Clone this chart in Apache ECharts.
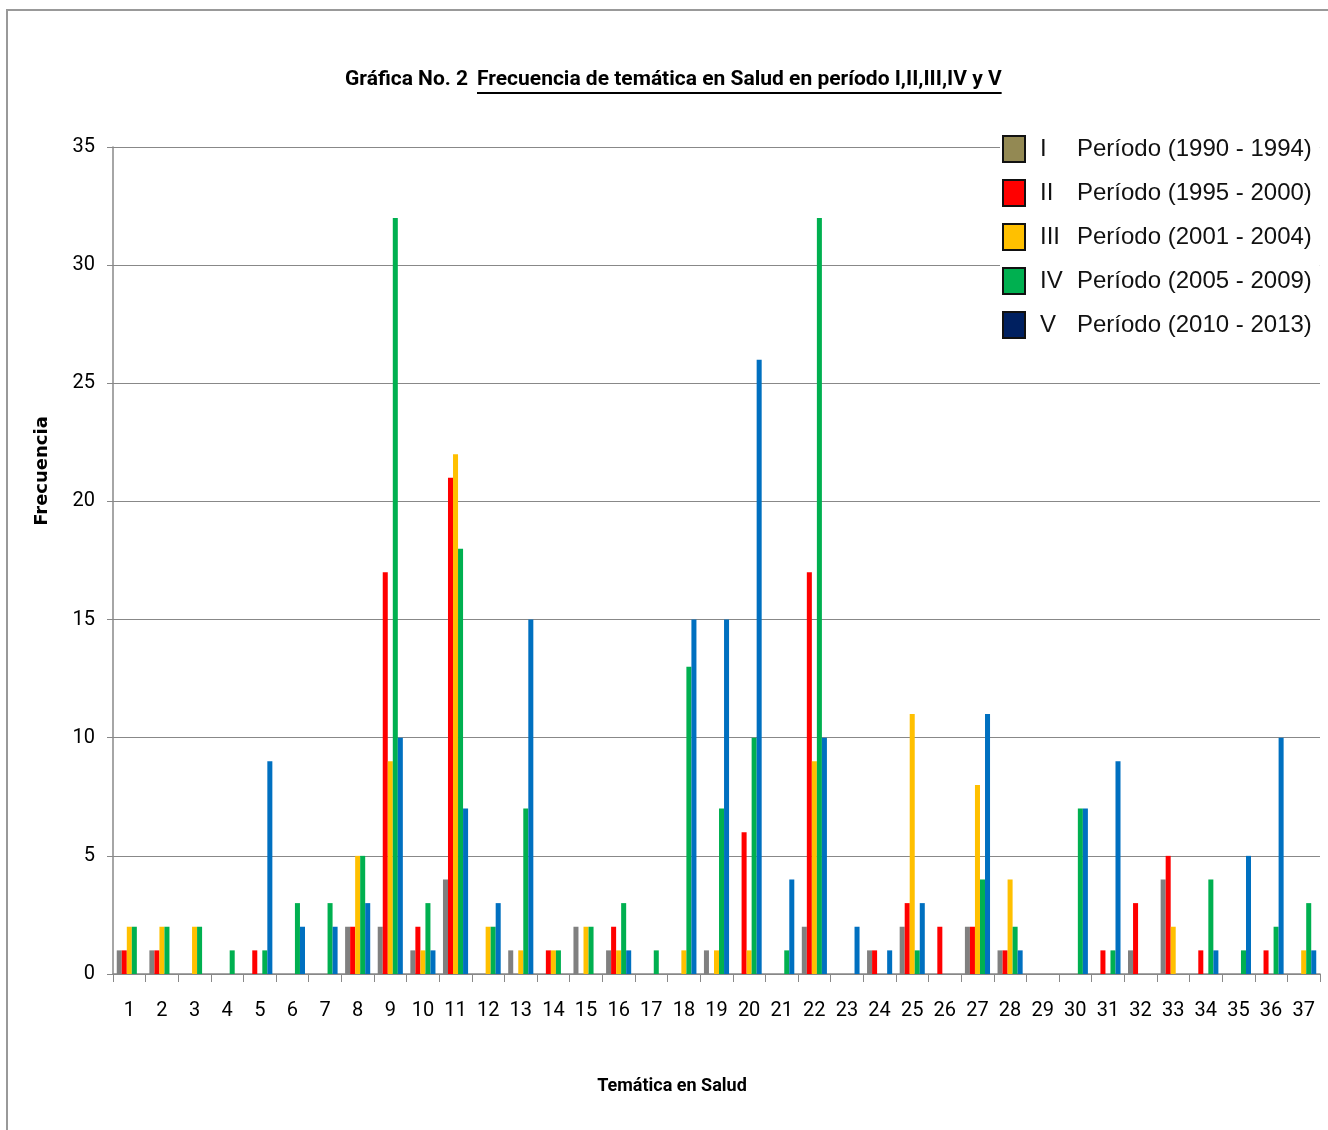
<!DOCTYPE html>
<html><head><meta charset="utf-8">
<script src="https://cdn.jsdelivr.net/npm/echarts@6/dist/echarts.min.js"></script>
<style>html,body{margin:0;padding:0;background:#fff}#c{width:1328px;height:1130px}</style>
</head><body><div id="c"></div>
<script>
const categories = Array.from({length:37},(_,i)=>String(i+1));
const seriesNames = ['I','II','III','IV','V'];
const periodLabels = ['Período (1990 - 1994)','Período (1995 - 2000)','Período (2001 - 2004)','Período (2005 - 2009)','Período (2010 - 2013)'];
//            1 2 3 4 5 6 7 8 9 10 11 12 13 14 15 16 17 18 19 20 21 22 23 24 25 26 27 28 29 30 31 32 33 34 35 36 37
const periodI   = [1,1,0,0,0,0,0,2,2,1,4,0,1,0,2,1,0,0,1,0,0,2,0,1,2,0,2,1,0,0,0,1,4,0,0,0,0];
const periodII  = [1,1,0,0,1,0,0,2,17,2,21,0,0,1,0,2,0,0,0,6,0,17,0,1,3,2,2,1,0,0,1,3,5,1,0,1,0];
const periodIII = [2,2,2,0,0,0,0,5,9,1,22,2,1,1,2,1,0,1,1,1,0,9,0,0,11,0,8,4,0,0,0,0,2,0,0,0,1];
const periodIV  = [2,2,2,1,1,3,3,5,32,3,18,2,7,1,2,3,1,13,7,10,1,32,0,0,1,0,4,2,0,7,1,0,0,4,1,2,3];
const periodV   = [0,0,0,0,9,2,2,3,10,1,7,3,15,0,0,1,0,15,15,26,4,10,2,1,3,0,11,1,0,7,9,0,0,1,5,10,1];
const yTicks = [0,5,10,15,20,25,30,35];
const titlePrefix = 'Gráfica No. 2';
const titleMain = 'Frecuencia de temática en Salud en período I,II,III,IV y V';
const xName = 'Temática en Salud';
const yName = 'Frecuencia';

const barColors = ['#808080','#FF0000','#FFC000','#00B050','#0070C0'];
const legendColors = ['#938953','#FF0000','#FFC000','#00B050','#002060'];
const allData = [periodI, periodII, periodIII, periodIV, periodV];

const font = "Roboto, 'Open Sans', sans-serif";
const titleFont = 'bold 21px Roboto';
const mctx = document.createElement('canvas').getContext('2d');
mctx.font = titleFont;
const mainW = mctx.measureText(titleMain).width;

const chart = echarts.init(document.getElementById('c'));
chart.setOption({
  animation:false,
  backgroundColor:'#fff',
  title:[
    {text:titlePrefix, left:345, top:69, padding:0, textStyle:{fontFamily:'Roboto',fontSize:21,fontWeight:'bold',color:'#000'}},
    {text:titleMain, left:477, top:69, padding:0, textStyle:{fontFamily:'Roboto',fontSize:21,fontWeight:'bold',color:'#000'}}
  ],
  legend:{
    orient:'vertical', left:1000, top:133, itemGap:16,
    itemWidth:22, itemHeight:26, icon:'rect',
    backgroundColor:'#fff', padding:[2,8,2,2],
    data: seriesNames.map((n,i)=>({name:n, itemStyle:{color:legendColors[i],borderColor:'#111',borderWidth:2}})),
    formatter: n => '{r|'+n+'}{p|'+periodLabels[seriesNames.indexOf(n)]+'}',
    textStyle:{rich:{
      r:{fontFamily:'Liberation Sans, Arial, sans-serif',fontSize:24,lineHeight:26,width:37,padding:[0,0,0,10],color:'#111'},
      p:{fontFamily:'Liberation Sans, Arial, sans-serif',fontSize:24,lineHeight:26,color:'#111'}
    }}
  },
  grid:{left:113,right:8,top:147,bottom:156},
  xAxis:{
    type:'category', data:categories,
    axisLine:{lineStyle:{color:'#888',width:1.5}},
    axisTick:{show:true,length:8,lineStyle:{color:'#888'}},
    axisLabel:{fontFamily:font,fontSize:20,color:'#000',margin:27}
  },
  yAxis:{
    type:'value', min:0, max:35, interval:5,
    axisLine:{show:true,lineStyle:{color:'#888',width:1.5}},
    axisTick:{show:true,length:6,lineStyle:{color:'#888'}},
    axisLabel:{fontFamily:font,fontSize:20,color:'#000',margin:18,
      formatter: v => yTicks.includes(v) ? String(v) : ''},
    splitLine:{lineStyle:{color:'#888',width:1.2}}
  },
  series: seriesNames.map((n,i)=>({
    name:n, type:'bar', data:allData[i],
    barGap:'0%', barCategoryGap:'23%',
    itemStyle:{color:barColors[i]}
  })),
  graphic:[
    {type:'rect',shape:{x:7,y:10,width:1340,height:1140},style:{fill:'none',stroke:'#999',lineWidth:2},silent:true},
    {type:'line',shape:{x1:477,y1:93,x2:477+mainW,y2:93},style:{stroke:'#000',lineWidth:2},silent:true},
    {type:'text',x:672,y:1086,style:{text:xName,fontFamily:'Roboto',fontSize:18,fontWeight:'bold',fill:'#000',align:'center',verticalAlign:'middle'},silent:true},
    {type:'text',x:42,y:471,rotation:Math.PI/2,style:{text:yName,fontFamily:'DejaVu Sans',fontSize:18,fontWeight:'bold',fill:'#000',align:'center',verticalAlign:'middle'},silent:true}
  ]
});
</script></body></html>
